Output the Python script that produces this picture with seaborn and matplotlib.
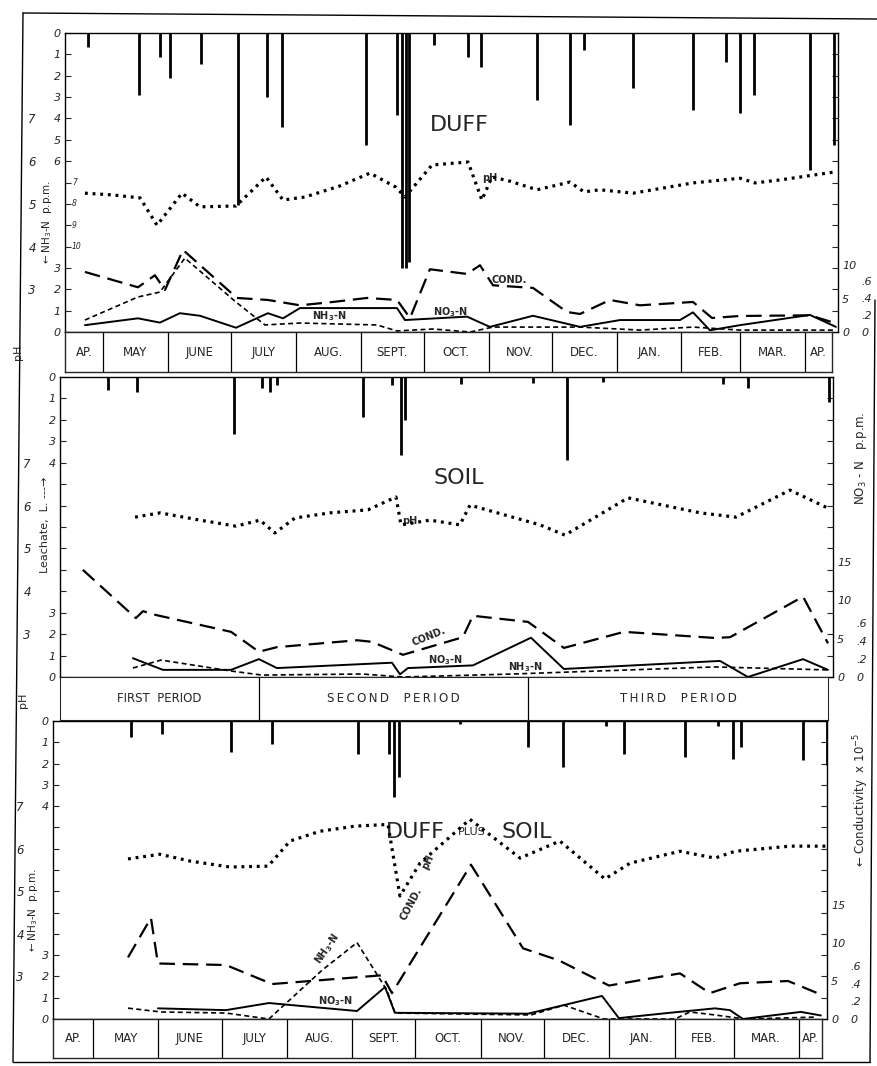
import numpy as np
import pandas as pd
import seaborn as sns
import matplotlib.pyplot as plt

sns.set_style("white")
plt.rcParams['font.family'] = ['DejaVu Sans']
plt.rcParams['mathtext.default'] = 'regular'

W, H = 877, 1066

# x axis = days after April 1 (May 1 = 30 ... next April 1 = 365)
month_starts = [30, 61, 91, 122, 153, 183, 214, 244, 275, 306, 334, 365]
month_names = ["AP.", "MAY", "JUNE", "JULY", "AUG.", "SEPT.", "OCT.", "NOV.",
               "DEC.", "JAN.", "FEB.", "MAR.", "AP."]
period_bounds = [106.8, 235.2]
period_names = ["FIRST  PERIOD", "SECOND  PERIOD", "THIRD  PERIOD"]

# ---------------- DUFF ----------------
duff_leach_day = [22.8, 47.2, 57.2, 62.0, 76.8, 94.4, 108.2, 115.4, 155.5, 170.3, 172.6, 174.6, 176.0,
                  187.9, 204.1, 210.3, 237.0, 252.8, 259.5, 282.9, 311.5, 327.2, 333.9, 340.6, 367.3, 378.8]
duff_leach = [0.66, 2.9, 1.12, 2.1, 1.45, 8.05, 3.0, 4.4, 5.24, 3.84, 11.0, 11.0, 10.7,
              0.56, 1.12, 1.59, 3.14, 4.3, 0.8, 2.57, 3.6, 1.36, 3.75, 2.9, 6.41, 5.24]
duff_ph_day = [21.4, 34.3, 47.7, 55.8, 67.7, 76.3, 93.5, 107.8, 115.9, 126.4, 143.1, 157.4, 169.8, 174.1,
               187.0, 204.2, 210.8, 215.6, 224.2, 237.1, 252.8, 259.5, 267.1, 282.9, 311.5, 333.9, 341.1,
               353.0, 379.7]
duff_ph = [5.25, 5.21, 5.14, 4.50, 5.25, 4.93, 4.95, 5.63, 5.09, 5.16, 5.42, 5.72, 5.39, 5.16,
           5.91, 5.98, 5.09, 5.63, 5.53, 5.33, 5.51, 5.28, 5.33, 5.25, 5.49, 5.60, 5.49, 5.56, 5.75]
duff_cond_day = [21.4, 46.7, 54.8, 59.6, 68.2, 93.9, 108.7, 124.0, 139.7, 156.0, 170.3, 176.5, 186.0,
                 203.7, 209.9, 216.1, 235.2, 251.4, 257.6, 271.9, 286.2, 311.5, 320.6, 333.9, 367.3, 379.7]
duff_cond = [9.0, 6.7, 8.5, 6.3, 12.3, 5.1, 4.8, 4.0, 4.5, 5.1, 4.8, 2.1, 9.4,
             8.7, 10.0, 7.0, 6.6, 3.0, 2.7, 4.8, 4.0, 4.5, 2.1, 2.4, 2.5, 1.3]
duff_no3_day = [21.4, 46.7, 57.2, 66.7, 76.3, 93.5, 108.7, 115.9, 124.0, 170.3, 174.1, 203.7, 214.6,
                235.2, 257.6, 276.7, 305.3, 311.5, 319.6, 333.9, 367.3, 379.7]
duff_no3 = [0.08, 0.16, 0.11, 0.22, 0.19, 0.05, 0.22, 0.16, 0.28, 0.28, 0.14, 0.18, 0.06,
            0.19, 0.06, 0.14, 0.14, 0.23, 0.02, 0.08, 0.20, 0.06]
duff_nh3_day = [21.4, 46.7, 57.2, 69.1, 93.5, 107.3, 124.0, 160.7, 170.3, 187.4, 205.1, 216.1,
                257.6, 286.2, 311.5, 333.9, 367.3, 379.7]
duff_nh3 = [0.56, 1.64, 1.87, 3.46, 1.40, 0.33, 0.42, 0.33, 0.05, 0.14, 0.0, 0.23,
            0.23, 0.09, 0.23, 0.09, 0.09, 0.09]

# ---------------- SOIL ----------------
soil_leach_day = [34.8, 48.6, 94.9, 108.2, 112.1, 115.4, 156.4, 170.3, 174.6, 176.5, 203.2, 237.5,
                  253.8, 270.9, 328.2, 340.1, 378.8]
soil_leach = [0.61, 0.70, 2.66, 0.51, 0.70, 0.37, 1.87, 0.37, 3.64, 2.0, 0.33, 0.28,
              3.87, 0.23, 0.33, 0.51, 1.17]
soil_ph_day = [47.7, 59.6, 78.7, 95.8, 107.3, 114.4, 124.0, 140.7, 158.8, 172.2, 174.6, 188.4,
               202.7, 207.5, 224.2, 240.9, 252.8, 282.9, 317.3, 334.4, 360.2, 378.3]
soil_ph = [5.73, 5.83, 5.66, 5.52, 5.66, 5.36, 5.71, 5.83, 5.90, 6.20, 5.55, 5.66,
           5.55, 6.01, 5.78, 5.55, 5.31, 6.18, 5.83, 5.73, 6.36, 5.94]
soil_cond_day = [22.8, 48.1, 51.5, 57.7, 93.5, 106.8, 115.4, 153.6, 160.7, 175.5, 204.1, 208.9,
                 235.2, 252.3, 281.0, 324.4, 331.6, 366.4, 378.3]
soil_cond = [14.0, 7.7, 8.6, 8.1, 5.9, 3.3, 3.9, 4.8, 4.6, 2.9, 5.2, 8.0,
             7.2, 3.8, 5.9, 5.1, 5.2, 10.5, 4.4]
soil_no3_day = [46.7, 61.0, 93.5, 106.8, 115.4, 170.3, 174.1, 177.9, 208.9, 236.6, 252.3, 326.8,
                340.1, 366.4, 378.3]
soil_no3 = [0.21, 0.08, 0.08, 0.20, 0.10, 0.16, 0.03, 0.10, 0.13, 0.44, 0.09, 0.18,
            0.0, 0.20, 0.08]
soil_nh3_day = [46.7, 60.1, 93.5, 108.2, 156.0, 175.5, 228.0, 324.4, 378.3]
soil_nh3 = [0.42, 0.79, 0.28, 0.09, 0.14, 0.0, 0.14, 0.47, 0.33]

# ---------------- DUFF PLUS SOIL ----------------
both_leach_day = [48.0, 62.7, 95.5, 115.0, 155.8, 170.5, 172.9, 175.2, 204.2, 236.5, 253.1, 273.5,
                  282.0, 311.0, 326.6, 333.7, 337.5, 367.0, 378.4]
both_leach = [0.75, 0.61, 1.45, 1.07, 1.54, 1.54, 3.55, 2.62, 0.14, 1.21, 2.15, 0.23,
              1.54, 1.68, 0.23, 1.78, 1.21, 1.82, 2.06]
both_ph_day = [46.6, 61.8, 76.0, 95.0, 113.1, 123.5, 137.7, 154.3, 170.0, 175.7, 185.2, 208.9,
               232.7, 251.6, 273.0, 284.9, 308.6, 325.2, 334.7, 360.8, 377.9]
both_ph = [5.76, 5.87, 5.71, 5.57, 5.59, 6.18, 6.41, 6.53, 6.57, 4.89, 5.66, 6.69,
           5.78, 6.18, 5.29, 5.66, 5.94, 5.78, 5.94, 6.06, 6.06]
both_cond_day = [46.6, 57.5, 60.8, 93.1, 115.0, 167.2, 171.9, 209.4, 234.1, 251.2, 274.9, 308.6,
                 322.8, 337.1, 359.9, 376.5]
both_cond = [8.1, 13.3, 7.3, 7.1, 4.6, 5.75, 3.4, 20.3, 9.3, 7.7, 4.4, 6.0,
             3.4, 4.7, 5.0, 3.1]
both_no3_day = [60.8, 93.1, 113.5, 155.3, 168.6, 173.3, 236.5, 271.6, 279.6, 303.8, 325.2, 332.3,
                338.5, 366.0, 375.5]
both_no3 = [0.12, 0.10, 0.18, 0.09, 0.36, 0.07, 0.06, 0.26, 0.01, 0.07, 0.12, 0.10,
            0.0, 0.08, 0.04]
both_nh3_day = [46.6, 62.3, 93.1, 113.5, 138.7, 155.3, 169.5, 173.3, 237.9, 253.5, 272.5, 306.2,
                313.3, 325.2, 339.4, 373.1]
both_nh3 = [0.51, 0.33, 0.28, 0.0, 2.29, 3.59, 1.35, 0.28, 0.19, 0.65, 0.0, 0.0,
            0.33, 0.19, 0.0, 0.09]

PH_STYLE = dict(color='black', lw=2.3, linestyle=(0, (0.9, 1.5)))
COND_STYLE = dict(color='black', lw=1.6, linestyle=(0, (7, 3.5)))
NO3_STYLE = dict(color='black', lw=1.4, linestyle='-')
NH3_STYLE = dict(color='black', lw=1.2, linestyle=(0, (3, 2)))

fig = plt.figure(figsize=(W / 100, H / 100), dpi=100)


def px_rect(x0, y0, x1, y1):
    return [x0 / W, 1 - y1 / H, (x1 - x0) / W, (y1 - y0) / H]


def draw_panel(box, xlim, leach_day, leach, ph_day, ph, cond_day, cond, no3_day, no3,
               nh3_day, nh3, cond_unit, no3_unit, left_labels, inner_small, cond_ticks):
    ax = fig.add_axes(px_rect(*box))
    ax_l = ax.twinx()
    ax_ph = ax.twinx()
    ax_c = ax.twinx()
    ax_n = ax.twinx()

    ax_l.vlines(leach_day, 0, leach, color='black', lw=2.0)
    sns.lineplot(x=ph_day, y=ph, ax=ax_ph, estimator=None, **PH_STYLE)
    sns.lineplot(x=cond_day, y=cond, ax=ax_c, estimator=None, **COND_STYLE)
    sns.lineplot(x=no3_day, y=no3, ax=ax_n, estimator=None, **NO3_STYLE)
    sns.lineplot(x=nh3_day, y=nh3, ax=ax, estimator=None, **NH3_STYLE)

    ax.set_xlim(*xlim)
    ax.set_ylim(0, 14)
    ax_l.set_ylim(14, 0)
    ax_ph.set_ylim(2, 9)
    ax_c.set_ylim(0, 14 * cond_unit)
    ax_n.set_ylim(0, 14 * no3_unit)

    # inner left scale: NH3-N from the bottom, leachate from the top
    ax.set_xticks([])
    ax.set_yticks(range(15))
    ax.set_yticklabels(left_labels, fontstyle='italic')
    ax.tick_params(axis='y', direction='in', length=4, width=0.8, left=True, right=True,
                   labelleft=True, labelright=False, labelsize=8, pad=3)
    # small leachate numbers written inside the frame
    for u, lab in inner_small:
        ax.text(0.009, u, lab, transform=ax.get_yaxis_transform(), ha='left', va='center',
                fontsize=5.5, fontstyle='italic')
    for s in ax.spines.values():
        s.set_linewidth(1.0)
        s.set_color('black')
    ax.set_xlabel('')
    ax.set_ylabel('')

    for a in (ax_l, ax_ph, ax_c, ax_n):
        for s in a.spines.values():
            s.set_visible(False)
        a.set_xticks([])
        a.set_ylabel('')
        a.set_xlabel('')
    ax_l.set_yticks([])

    # pH outer scale
    ax_ph.yaxis.set_ticks_position('left')
    ax_ph.set_yticks([3, 4, 5, 6, 7])
    ax_ph.set_yticklabels(['3', '4', '5', '6', '7'], fontstyle='italic')
    ax_ph.tick_params(axis='y', length=0, pad=21, labelsize=8.5, labelleft=True, labelright=False)

    # conductivity and NO3 scales on the right
    ax_c.set_yticks(cond_ticks)
    ax_c.set_yticklabels([str(t) for t in cond_ticks], fontstyle='italic')
    ax_c.tick_params(axis='y', length=0, pad=3, labelsize=8, labelright=True, labelleft=False)
    no3_ticks = [0, 0.2, 0.4, 0.6]
    ax_n.set_yticks(no3_ticks)
    ax_n.set_yticklabels(['0', '.2', '.4', '.6'], fontstyle='italic')
    ax_n.tick_params(axis='y', length=0, pad=17, labelsize=8, labelright=True, labelleft=False)
    return ax


def month_band(box, xlim):
    axm = fig.add_axes(px_rect(*box))
    axm.set_xlim(*xlim)
    axm.set_ylim(0, 1)
    axm.set_xticks([])
    axm.set_yticks([])
    axm.vlines(month_starts, 0, 1, color='black', lw=0.9)
    edges = [xlim[0]] + month_starts + [xlim[1]]
    for i, name in enumerate(month_names):
        axm.text((edges[i] + edges[i + 1]) / 2, 0.5, name, ha='center', va='center', fontsize=8.5)
    for s in axm.spines.values():
        s.set_linewidth(1.0)
    return axm


duff_labels = ['0', '1', '2', '3', '', '', '', '', '6', '5', '4', '3', '2', '1', '0']
duff_small = [(4, '10'), (5, '9'), (6, '8'), (7, '7')]
soil_labels = ['0', '1', '2', '3', '', '', '', '', '', '', '4', '3', '2', '1', '0']

# ---------- top: DUFF ----------
ax1 = draw_panel((65, 33, 838, 332), (11.9, 380.7), duff_leach_day, duff_leach, duff_ph_day, duff_ph,
                 duff_cond_day, duff_cond, duff_no3_day, duff_no3, duff_nh3_day, duff_nh3,
                 3.2, 0.25, duff_labels, duff_small, [0, 5, 10])
month_band((65, 332, 832, 372), (11.9, 377.8))
ax1.text(200, 9.7, 'DUFF', ha='center', va='center', fontsize=16)
ax1.text(214.6, 7.2, 'pH', ha='center', va='center', fontsize=7, fontweight='bold')
ax1.text(224, 2.45, 'COND.', ha='center', va='center', fontsize=7, fontweight='bold')
ax1.text(138, 0.75, 'NH$_3$-N', ha='center', va='center', fontsize=7, fontweight='bold')
ax1.text(196, 0.95, 'NO$_3$-N', ha='center', va='center', fontsize=7, fontweight='bold')

# ---------- middle: SOIL ----------
ax2 = draw_panel((60, 377, 833, 677), (11.9, 380.7), soil_leach_day, soil_leach, soil_ph_day, soil_ph,
                 soil_cond_day, soil_cond, soil_no3_day, soil_no3, soil_nh3_day, soil_nh3,
                 2.8, 0.24, soil_labels, [], [0, 5, 10, 15])
ax2.text(202, 9.3, 'SOIL', ha='center', va='center', fontsize=16)
ax2.text(179, 7.3, 'pH', ha='center', va='center', fontsize=7, fontweight='bold')
ax2.text(188, 1.9, 'COND.', ha='center', va='center', fontsize=7, fontweight='bold', rotation=22)
ax2.text(196, 0.8, 'NO$_3$-N', ha='center', va='center', fontsize=7, fontweight='bold')
ax2.text(234, 0.45, 'NH$_3$-N', ha='center', va='center', fontsize=7, fontweight='bold')

# period band
axp = fig.add_axes(px_rect(60, 677, 828, 720))
axp.set_xlim(11.9, 378.3)
axp.set_ylim(0, 1)
axp.set_xticks([])
axp.set_yticks([])
axp.vlines(period_bounds, 0, 1, color='black', lw=0.9)
p_edges = [11.9] + period_bounds + [378.3]
for i, name in enumerate(period_names):
    txt = name if i == 0 else '\u2009'.join(name)
    axp.text((p_edges[i] + p_edges[i + 1]) / 2, 0.5, txt, ha='center', va='center', fontsize=8.5)

# ---------- bottom: DUFF PLUS SOIL ----------
ax3 = draw_panel((53, 721, 827, 1019), (11.0, 378.4), both_leach_day, both_leach, both_ph_day, both_ph,
                 both_cond_day, both_cond, both_no3_day, both_no3, both_nh3_day, both_nh3,
                 2.8, 0.24, soil_labels, [], [0, 5, 10, 15])
month_band((53, 1019, 822, 1058), (11.0, 376.0))
ax3.text(183, 8.8, 'DUFF', ha='center', va='center', fontsize=16)
ax3.text(210, 8.8, 'PLUS', ha='center', va='center', fontsize=8)
ax3.text(236, 8.8, 'SOIL', ha='center', va='center', fontsize=16)
ax3.text(189, 7.4, 'pH', ha='center', va='center', fontsize=7, fontweight='bold', rotation=65)
ax3.text(181, 5.4, 'COND.', ha='center', va='center', fontsize=7, fontweight='bold', rotation=62)
ax3.text(141, 3.3, 'NH$_3$-N', ha='center', va='center', fontsize=7, fontweight='bold', rotation=55)
ax3.text(145, 0.85, 'NO$_3$-N', ha='center', va='center', fontsize=7, fontweight='bold')

# ---------- frame and side titles ----------
bg = fig.add_axes([0, 0, 1, 1], zorder=-1)
bg.set_xlim(0, W)
bg.set_ylim(H, 0)
bg.axis('off')
bg.plot([23, 13], [13, 1062], color='black', lw=1.0)
bg.plot([23, 877], [13, 19], color='black', lw=1.0)
bg.plot([13, 870], [1062, 1062], color='black', lw=1.0)
bg.plot([875, 870], [300, 1062], color='black', lw=1.0)

bg.text(18, 352, 'pH', rotation=90, ha='center', va='center', fontsize=8)
bg.text(23, 700, 'pH', rotation=90, ha='center', va='center', fontsize=8)
bg.text(47, 222, '\u2190 NH$_3$-N  p.p.m.', rotation=90, ha='center', va='center', fontsize=7.5)
bg.text(45, 525, 'Leachate,  L. ---\u2192', rotation=90, ha='center', va='center', fontsize=8)
bg.text(33, 910, '\u2190 NH$_3$-N  p.p.m.', rotation=90, ha='center', va='center', fontsize=7.5)
bg.text(861, 458, 'NO$_3$ - N   p.p.m.', rotation=90, ha='center', va='center', fontsize=8.5)
bg.text(861, 800, '\u2190 Conductivity  x 10$^{-5}$', rotation=90, ha='center', va='center', fontsize=8.5)
bg.annotate('', xy=(859, 603), xytext=(859, 548), arrowprops=dict(arrowstyle='->', lw=0.8))
bg.annotate('', xy=(859, 350), xytext=(859, 382), arrowprops=dict(arrowstyle='->', lw=0.8))
bg.annotate('', xy=(859, 686), xytext=(859, 722), arrowprops=dict(arrowstyle='->', lw=0.8))

fig.savefig('out.png', dpi=100)
